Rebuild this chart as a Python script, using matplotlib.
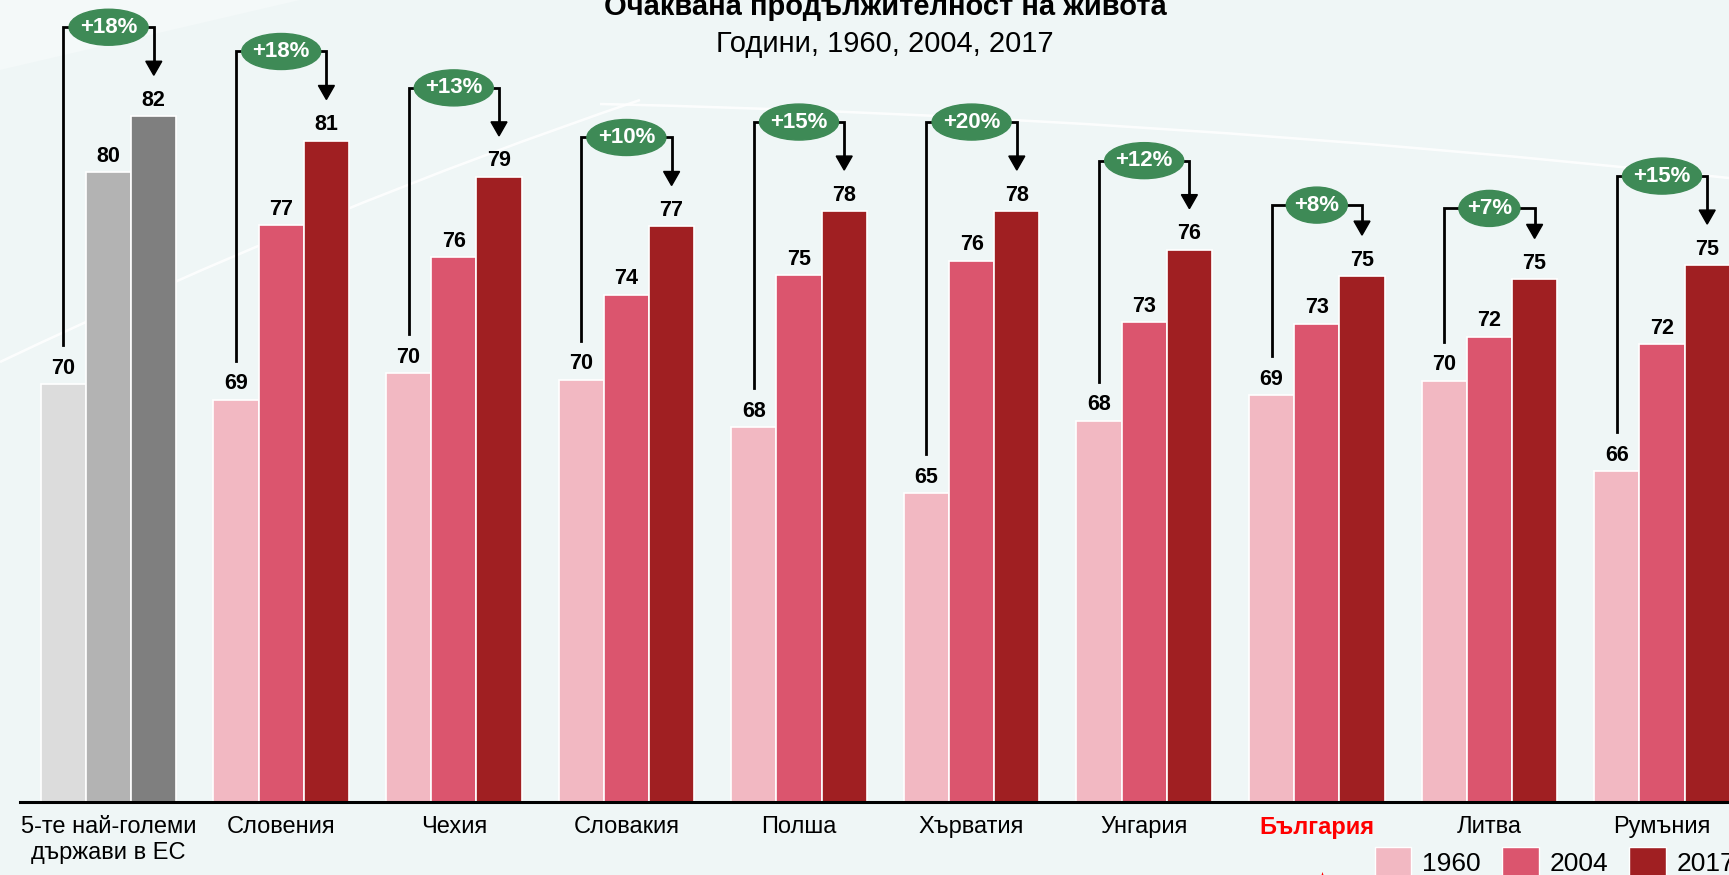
import numpy as np
import matplotlib
matplotlib.use("Agg")
import matplotlib.pyplot as plt
import matplotlib.transforms as mtransforms
from matplotlib.patches import Ellipse, Polygon, Patch, PathPatch
from matplotlib.path import Path

plt.rcParams['font.family'] = ['Liberation Sans', 'DejaVu Sans']

# life expectancy, years
categories = ['5-те най-големи\nдържави в ЕС', 'Словения', 'Чехия', 'Словакия', 'Полша',
              'Хърватия', 'Унгария', 'България', 'Литва', 'Румъния']
years = ['1960', '2004', '2017']
life_1960 = [69.96, 69.24, 70.45, 70.15, 68.0, 65.0, 68.3, 69.45, 70.1, 66.0]
life_2004 = [79.56, 77.17, 75.7, 74.0, 74.9, 75.55, 72.75, 72.7, 72.1, 71.75]
life_2017 = [82.1, 81.0, 79.35, 77.1, 77.8, 77.8, 76.05, 74.85, 74.7, 75.35]
growth_pct = [18, 18, 13, 10, 15, 20, 12, 8, 7, 15]
highlight = 'България'

gray_cols = ['#DCDCDC', '#B3B3B3', '#7F7F7F']
red_cols = ['#F2B8C2', '#DB556E', '#A01F22']
green = '#3E8A56'

W, H = 1729, 875
fig = plt.figure(figsize=(W / 100, H / 100), dpi=100)
fig.patch.set_facecolor('#EFF6F6')

# background layer in pixel coordinates
bg = fig.add_axes([0, 0, 1, 1], zorder=0)
bg.set_xlim(0, W)
bg.set_ylim(H, 0)
bg.axis('off')
bg.add_patch(Polygon([(0, 0), (300, 0), (0, 70)], closed=True, color='#F4F9F9', lw=0))
for pts in ([(0, 362), (330, 205), (640, 100)],
            [(600, 104), (1150, 116), (1729, 178)]):
    bg.add_patch(PathPatch(Path(pts, [Path.MOVETO, Path.CURVE3, Path.CURVE3]),
                           facecolor='none', edgecolor='white', lw=1.8, alpha=0.85))
bg.add_patch(Polygon([(1320, 880), (1325, 880), (1322.5, 872)], closed=True, color='red', lw=0))

# main axes: baseline at pixel row 802
base_px = 802
px_x = 172.6   # pixels per category
px_y = 22.05   # pixels per year
y0 = 51
ax = fig.add_axes([0, (H - base_px) / H, 1, base_px / H], zorder=1)
ax.set_facecolor('none')
ax.set_xlim(-108.6 / px_x, (W - 108.6) / px_x)
ax.set_ylim(y0, y0 + base_px / px_y)
ax.axis('off')
ax.axhline(y0, xmin=20 / W, xmax=1, color='black', lw=2.2, clip_on=False)

x = np.arange(len(categories))
w = 45.2 / px_x
series = [life_1960, life_2004, life_2017]
for j, vals in enumerate(series):
    cols = [gray_cols[j]] + [red_cols[j]] * (len(categories) - 1)
    bars = ax.bar(x + (j - 1) * w, vals, w, color=cols, edgecolor='white', linewidth=1.2)
    for b, v in zip(bars, vals):
        ax.annotate(f'{v:.0f}', (b.get_x() + w / 2, v), xytext=(0, 7.5),
                    textcoords='offset points', ha='center', va='baseline',
                    fontsize=15.5, fontweight='bold')

# growth brackets from 1960 to 2017
short_rise = {'България', 'Литва'}
for i, cat in enumerate(categories):
    v1, v3 = life_1960[i], life_2017[i]
    xl, xr = i - w, i + w
    rise = 71 if cat in short_rise else 89
    level = v3 + rise / px_y
    start = v1 + 39 / px_y
    tip = v3 + 41 / px_y
    head = 14 / px_y
    ax.plot([xl, xl, i], [start, level, level], color='black', lw=2.0,
            solid_joinstyle='miter', zorder=3)
    ax.plot([i, xr, xr], [level, level, tip + head], color='black', lw=2.0,
            solid_joinstyle='miter', zorder=3)
    ax.add_patch(Polygon([(xr - 8 / px_x, tip + head), (xr + 8 / px_x, tip + head), (xr, tip)],
                         closed=True, color='black', zorder=3))
    ew = (79 if growth_pct[i] >= 10 else 61) / px_x
    ax.add_patch(Ellipse((i, level), ew, 36 / px_y, color=green, zorder=4))
    ax.text(i, level, f'+{growth_pct[i]}%', ha='center', va='center', color='white',
            fontsize=16, fontweight='bold', zorder=5)

# category labels under the baseline
lab_tr = mtransforms.blended_transform_factory(ax.transData, bg.transData)
for i, cat in enumerate(categories):
    hl = cat == highlight
    ax.text(i, 816, cat, transform=lab_tr, ha='center', va='top', fontsize=17,
            linespacing=1.22, color='red' if hl else 'black',
            fontweight='bold' if hl else 'normal')

fig.text(885 / W, 1 - 15 / H, 'Очаквана продължителност на живота', ha='center',
         va='baseline', fontsize=21, fontweight='bold')
fig.text(885 / W, 1 - 52 / H, 'Години, 1960, 2004, 2017', ha='center', va='baseline',
         fontsize=21)

handles = [Patch(facecolor=c, edgecolor='white') for c in red_cols]
fig.legend(handles, years, loc='upper left', bbox_to_anchor=(1375 / W, 1 - 847 / H),
           ncol=3, frameon=False, fontsize=19, borderpad=0, borderaxespad=0,
           handlelength=1.38, handleheight=1.38, handletextpad=0.42, columnspacing=0.8)

fig.savefig('out.png', dpi=100, facecolor=fig.get_facecolor())
